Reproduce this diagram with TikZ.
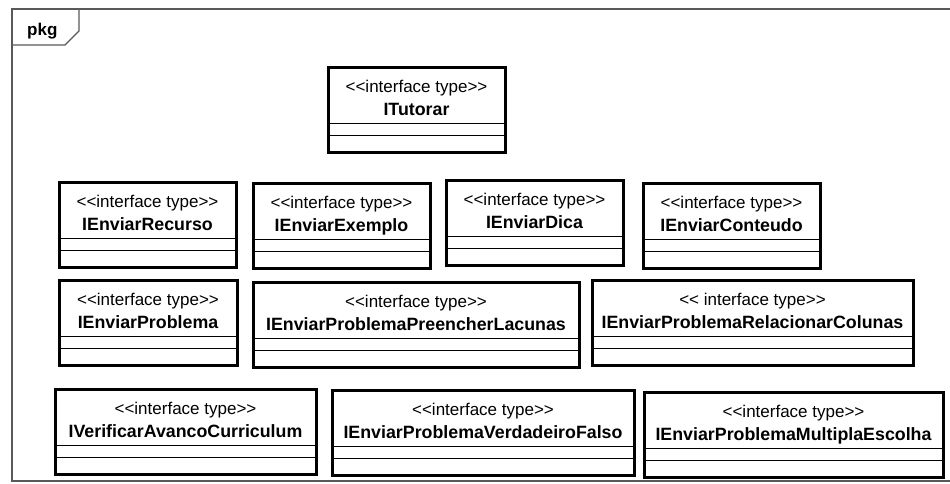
\documentclass[tikz,border=0pt]{standalone}
\usepackage{fontspec}
\setmainfont{Liberation Sans}
\newcommand{\ityp}{<\kern0pt<interface type>\kern0pt>}

\begin{document}
\begin{tikzpicture}[x=1pt,y=-1pt]
		\tikzstyle{iface}=[draw=black, line width=3pt, anchor=north west, minimum height=85pt, inner sep=0pt, outer sep=0pt]
		\tikzstyle{stereo}=[anchor=base, inner sep=0pt, font=\fontsize{17}{19}\selectfont]
		\tikzstyle{iname}=[anchor=base, inner sep=0pt, font=\fontsize{17.8}{20}\selectfont\bfseries]
		\tikzstyle{comp}=[black, line width=0.9pt]
		\useasboundingbox (0,0) rectangle (950,483);
		% package frame
		\draw [black!65, line width=1.2pt] (960,9) -- (12,9) -- (12,481) -- (960,481);
		\draw [black!65, line width=1.2pt] (12,45) -- (65,45) -- (79,31) -- (79,9);
		\node [anchor=base west, inner sep=0pt, font=\fontsize{17}{20}\selectfont\bfseries] (pkg) at (27,35) {pkg};
		% ITutorar
		\node [iface, minimum width=177pt] (tutorar) at (328,67) {};
		\node [stereo] (tutorar-s) at ([yshift=-25]tutorar.north) {\ityp};
		\node [iname] (tutorar-n) at ([yshift=-48]tutorar.north) {ITutorar};
		\draw [comp] ([yshift=-56]tutorar.north west) -- ([yshift=-56]tutorar.north east) ([yshift=-68]tutorar.north west) -- ([yshift=-68]tutorar.north east);
		% second row
		\node [iface, minimum width=177pt] (recurso) at (59,182) {};
		\node [stereo] (recurso-s) at ([yshift=-25]recurso.north) {\ityp};
		\node [iname] (recurso-n) at ([yshift=-48]recurso.north) {IEnviarRecurso};
		\draw [comp] ([yshift=-56]recurso.north west) -- ([yshift=-56]recurso.north east) ([yshift=-68]recurso.north west) -- ([yshift=-68]recurso.north east);
		\node [iface, minimum width=177pt] (exemplo) at (253,183) {};
		\node [stereo] (exemplo-s) at ([yshift=-25]exemplo.north) {\ityp};
		\node [iname] (exemplo-n) at ([yshift=-48]exemplo.north) {IEnviarExemplo};
		\draw [comp] ([yshift=-56]exemplo.north west) -- ([yshift=-56]exemplo.north east) ([yshift=-68]exemplo.north west) -- ([yshift=-68]exemplo.north east);
		\node [iface, minimum width=177pt] (dica) at (446,180) {};
		\node [stereo] (dica-s) at ([yshift=-25]dica.north) {\ityp};
		\node [iname] (dica-n) at ([yshift=-48]dica.north) {IEnviarDica};
		\draw [comp] ([yshift=-56]dica.north west) -- ([yshift=-56]dica.north east) ([yshift=-68]dica.north west) -- ([yshift=-68]dica.north east);
		\node [iface, minimum width=177pt] (conteudo) at (643,183) {};
		\node [stereo] (conteudo-s) at ([yshift=-25]conteudo.north) {\ityp};
		\node [iname] (conteudo-n) at ([yshift=-48]conteudo.north) {IEnviarConteudo};
		\draw [comp] ([yshift=-56]conteudo.north west) -- ([yshift=-56]conteudo.north east) ([yshift=-68]conteudo.north west) -- ([yshift=-68]conteudo.north east);
		% third row
		\node [iface, minimum width=178pt] (problema) at (59,280) {};
		\node [stereo] (problema-s) at ([yshift=-25]problema.north) {\ityp};
		\node [iname] (problema-n) at ([yshift=-48]problema.north) {IEnviarProblema};
		\draw [comp] ([yshift=-56]problema.north west) -- ([yshift=-56]problema.north east) ([yshift=-68]problema.north west) -- ([yshift=-68]problema.north east);
		\node [iface, minimum width=326pt] (lacunas) at (253,282) {};
		\node [stereo] (lacunas-s) at ([yshift=-25]lacunas.north) {\ityp};
		\node [iname] (lacunas-n) at ([yshift=-48]lacunas.north) {IEnviarProblemaPreencherLacunas};
		\draw [comp] ([yshift=-56]lacunas.north west) -- ([yshift=-56]lacunas.north east) ([yshift=-68]lacunas.north west) -- ([yshift=-68]lacunas.north east);
		\node [iface, minimum width=321pt] (colunas) at (592,280) {};
		\node [stereo] (colunas-s) at ([yshift=-25]colunas.north) {<\kern0pt< interface type>\kern0pt>};
		\node [iname] (colunas-n) at ([yshift=-48]colunas.north) {IEnviarProblemaRelacionarColunas};
		\draw [comp] ([yshift=-56]colunas.north west) -- ([yshift=-56]colunas.north east) ([yshift=-68]colunas.north west) -- ([yshift=-68]colunas.north east);
		% fourth row
		\node [iface, minimum width=261pt] (avanco) at (55,389) {};
		\node [stereo] (avanco-s) at ([yshift=-25]avanco.north) {\ityp};
		\node [iname] (avanco-n) at ([yshift=-48]avanco.north) {IVerificarAvancoCurriculum};
		\draw [comp] ([yshift=-56]avanco.north west) -- ([yshift=-56]avanco.north east) ([yshift=-68]avanco.north west) -- ([yshift=-68]avanco.north east);
		\node [iface, minimum width=302pt] (vf) at (332,390) {};
		\node [stereo] (vf-s) at ([yshift=-25]vf.north) {\ityp};
		\node [iname] (vf-n) at ([yshift=-48]vf.north) {IEnviarProblemaVerdadeiroFalso};
		\draw [comp] ([yshift=-56]vf.north west) -- ([yshift=-56]vf.north east) ([yshift=-68]vf.north west) -- ([yshift=-68]vf.north east);
		\node [iface, minimum width=299pt] (multipla) at (644,392) {};
		\node [stereo] (multipla-s) at ([yshift=-25]multipla.north) {\ityp};
		\node [iname] (multipla-n) at ([yshift=-48]multipla.north) {IEnviarProblemaMultiplaEscolha};
		\draw [comp] ([yshift=-56]multipla.north west) -- ([yshift=-56]multipla.north east) ([yshift=-68]multipla.north west) -- ([yshift=-68]multipla.north east);
	\end{tikzpicture}
\end{document}
